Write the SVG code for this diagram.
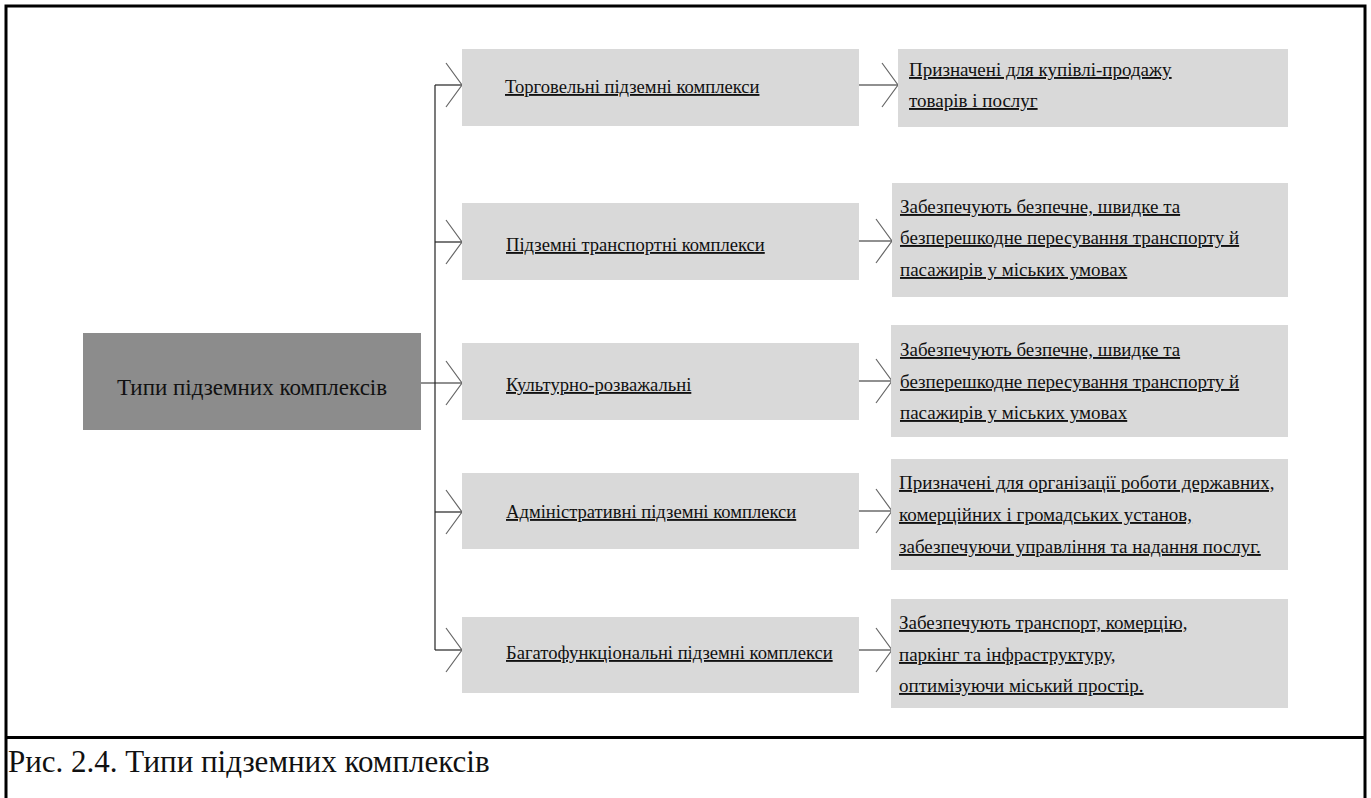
<svg xmlns="http://www.w3.org/2000/svg" width="1371" height="798" viewBox="0 0 1371 798">
<style>
  .t { font-family: "Liberation Serif", Tinos, "Times New Roman", "DejaVu Serif", serif; fill: #111; }
  .u { text-decoration: underline; font-size: 19px; }
  .m { font-size: 18.6px; }
  .mid { fill: #d9d9d9; }
  .ln { stroke: #222; stroke-width: 1.2; fill: none; }
  .ch { stroke: #666; stroke-width: 1.2; fill: none; }
</style>
<rect width="1371" height="798" fill="#fff"/>
<g id="frame">
  <rect x="6" y="6" width="1359" height="805" fill="none" stroke="#000" stroke-width="3"/>
  <line x1="6" y1="737.5" x2="1365" y2="737.5" stroke="#000" stroke-width="3"/>
</g>
<g id="connectors">
  <line class="ln" x1="435" y1="85" x2="435" y2="650"/>
  <line class="ln" x1="435" y1="85" x2="462" y2="85"/>
  <line class="ln" x1="435" y1="242" x2="462" y2="242"/>
  <line class="ln" x1="421" y1="383" x2="462" y2="383"/>
  <line class="ln" x1="435" y1="512" x2="462" y2="512"/>
  <line class="ln" x1="435" y1="650" x2="462" y2="650"/>
  <polyline class="ch" points="446,63 462,85 446,107"/>
  <polyline class="ch" points="446,220 462,242 446,264"/>
  <polyline class="ch" points="446,361 462,383 446,405"/>
  <polyline class="ch" points="446,490 462,512 446,534"/>
  <polyline class="ch" points="446,628 462,650 446,672"/>
  <line class="ln" x1="859" y1="85" x2="898" y2="85"/>
  <line class="ln" x1="859" y1="241" x2="892" y2="241"/>
  <line class="ln" x1="859" y1="381" x2="892" y2="381"/>
  <line class="ln" x1="859" y1="511" x2="892" y2="511"/>
  <line class="ln" x1="859" y1="650" x2="892" y2="650"/>
  <polyline class="ch" points="882,63 898,85 882,107"/>
  <polyline class="ch" points="876,219 892,241 876,263"/>
  <polyline class="ch" points="876,359 892,381 876,403"/>
  <polyline class="ch" points="876,489 892,511 876,533"/>
  <polyline class="ch" points="876,628 892,650 876,672"/>
</g>
<g id="main">
  <rect x="83" y="333" width="338" height="97" fill="#8c8c8c"/>
  <text class="t" x="252" y="395" font-size="23" text-anchor="middle">Типи підземних комплексів</text>
</g>
<g id="type1">
  <rect class="mid" x="462" y="49" width="397" height="77"/>
  <text class="t u m" x="505" y="93">Торговельні підземні комплекси</text>
</g>
<g id="type2">
  <rect class="mid" x="462" y="203" width="397" height="77"/>
  <text class="t u m" x="506" y="251">Підземні транспортні комплекси</text>
</g>
<g id="type3">
  <rect class="mid" x="462" y="343" width="397" height="77"/>
  <text class="t u m" x="506" y="391">Культурно-розважальні</text>
</g>
<g id="type4">
  <rect class="mid" x="462" y="473" width="397" height="76"/>
  <text class="t u m" x="506" y="518">Адміністративні підземні комплекси</text>
</g>
<g id="type5">
  <rect class="mid" x="462" y="617" width="397" height="76"/>
  <text class="t u m" x="506" y="659">Багатофункціональні підземні комплекси</text>
</g>
<g id="desc1">
  <rect class="mid" x="898" y="49" width="390" height="78"/>
  <text class="t u" x="909" y="76">Призначені для купівлі-продажу</text>
  <text class="t u" x="909" y="107">товарів і послуг</text>
</g>
<g id="desc2">
  <rect class="mid" x="892" y="183" width="396" height="114"/>
  <text class="t u" x="900" y="213">Забезпечують безпечне, швидке та</text>
  <text class="t u" x="900" y="244">безперешкодне пересування транспорту й</text>
  <text class="t u" x="900" y="276">пасажирів у міських умовах</text>
</g>
<g id="desc3">
  <rect class="mid" x="891" y="325" width="397" height="112"/>
  <text class="t u" x="900" y="356">Забезпечують безпечне, швидке та</text>
  <text class="t u" x="900" y="388">безперешкодне пересування транспорту й</text>
  <text class="t u" x="900" y="419">пасажирів у міських умовах</text>
</g>
<g id="desc4">
  <rect class="mid" x="891" y="459" width="397" height="111"/>
  <text class="t u" x="899" y="489">Призначені для організації роботи державних,</text>
  <text class="t u" x="899" y="521">комерційних і громадських установ,</text>
  <text class="t u" x="899" y="553">забезпечуючи управління та надання послуг.</text>
</g>
<g id="desc5">
  <rect class="mid" x="891" y="599" width="397" height="109"/>
  <text class="t u" x="899" y="629">Забезпечують транспорт, комерцію,</text>
  <text class="t u" x="899" y="661">паркінг та інфраструктуру,</text>
  <text class="t u" x="899" y="692">оптимізуючи міський простір.</text>
</g>
<g id="caption">
  <text class="t" x="8" y="772" font-size="31" fill="#222">Рис. 2.4. Типи підземних комплексів</text>
</g>
</svg>
